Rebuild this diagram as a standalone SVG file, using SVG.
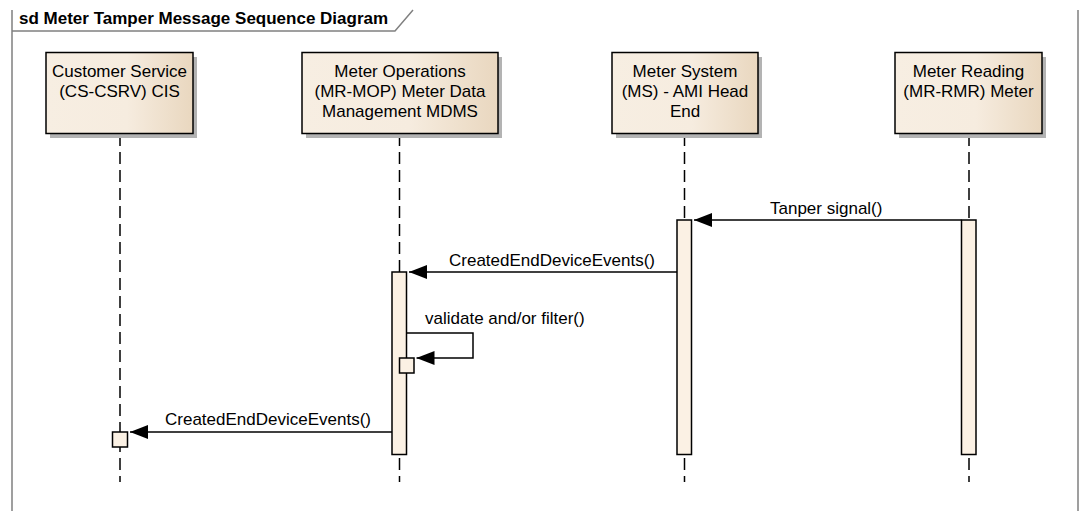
<svg xmlns="http://www.w3.org/2000/svg" width="1084" height="511" viewBox="0 0 1084 511">
<defs>
<linearGradient id="boxg" x1="0" y1="0" x2="1" y2="0">
<stop offset="0" stop-color="#F7EEE2"/>
<stop offset="0.55" stop-color="#F6ECDF"/>
<stop offset="1" stop-color="#E9D7BF"/>
</linearGradient>
<marker id="ah" viewBox="0 0 18 14" refX="18" refY="7" markerWidth="18" markerHeight="14" markerUnits="userSpaceOnUse" orient="auto">
<path d="M0,0 L18,7 L0,14 z" fill="#000"/>
</marker>
<style>
.frame{fill:none;stroke:#808080;stroke-width:1.5}
.title{font-family:"Liberation Sans",Arial,sans-serif;font-weight:bold;font-size:17px;fill:#000}
.box{fill:url(#boxg);stroke:#000;stroke-width:1.5}
.shadow{fill:#b3b3b3}
.lbl{font-family:"Liberation Sans",Arial,sans-serif;font-size:17px;fill:#000;text-anchor:middle}
.msg{font-family:"Liberation Sans",Arial,sans-serif;font-size:17px;fill:#000}
.life{stroke:#000;stroke-width:1.5;stroke-dasharray:12 6;fill:none}
.act{fill:#FBF1E4;stroke:#000;stroke-width:1.5}
.actsh{fill:#b3b3b3}
.arrow{stroke:#000;stroke-width:1.5;fill:none;marker-end:url(#ah)}
</style>
</defs>
<rect x="0" y="0" width="1084" height="511" fill="#fff"/>
<g id="frame">
<path class="frame" d="M12,10 V511 M1078,10 V511"/>
<path class="frame" d="M12,31 H395 L413,10"/>
<text class="title" x="19" y="24">sd Meter Tamper Message Sequence Diagram</text>
</g>
<g id="lifelines">
<line class="life" x1="120" y1="134" x2="120" y2="482"/>
<line class="life" x1="399.5" y1="134" x2="399.5" y2="482"/>
<line class="life" x1="684.5" y1="134" x2="684.5" y2="482"/>
<line class="life" x1="969" y1="134" x2="969" y2="482"/>
</g>
<g id="cs">
<rect class="shadow" x="50" y="57" width="147" height="81"/>
<rect class="box" x="46" y="52.5" width="147" height="81"/>
<text class="lbl" x="119.5" y="77">Customer Service</text>
<text class="lbl" x="119.5" y="97">(CS-CSRV) CIS</text>
</g>
<g id="mo">
<rect class="shadow" x="306" y="57" width="196" height="81"/>
<rect class="box" x="302" y="52.5" width="196" height="81"/>
<text class="lbl" x="400" y="77">Meter Operations</text>
<text class="lbl" x="400" y="97">(MR-MOP) Meter Data</text>
<text class="lbl" x="400" y="117">Management MDMS</text>
</g>
<g id="ms">
<rect class="shadow" x="616" y="57" width="146" height="81"/>
<rect class="box" x="612" y="52.5" width="146" height="81"/>
<text class="lbl" x="685" y="77">Meter System</text>
<text class="lbl" x="685" y="97">(MS) - AMI Head</text>
<text class="lbl" x="685" y="117">End</text>
</g>
<g id="mr">
<rect class="shadow" x="899" y="57" width="147" height="81"/>
<rect class="box" x="895" y="52.5" width="147" height="81"/>
<text class="lbl" x="968.5" y="77">Meter Reading</text>
<text class="lbl" x="968.5" y="97">(MR-RMR) Meter</text>
</g>
<g id="activations">
<rect class="act" x="677" y="220" width="14.5" height="234.5"/>
<rect class="act" x="961.5" y="220" width="14.5" height="234.5"/>
<rect class="act" x="392" y="272" width="14.5" height="182.5"/>
<rect class="act" x="399.5" y="358" width="14.5" height="15"/>
<rect class="act" x="112.5" y="432" width="15" height="15"/>
</g>
<g id="connectors">
<line class="arrow" x1="961.5" y1="220" x2="694" y2="220"/>
<text class="msg" x="770" y="214">Tanper signal()</text>
<line class="arrow" x1="677" y1="272" x2="409" y2="272"/>
<text class="msg" x="449" y="266">CreatedEndDeviceEvents()</text>
<path class="arrow" d="M406.5,333 H473 V358 H416.5"/>
<text class="msg" x="425" y="324">validate and/or filter()</text>
<line class="arrow" x1="392" y1="432" x2="130" y2="432"/>
<text class="msg" x="165" y="425">CreatedEndDeviceEvents()</text>
</g>
</svg>
